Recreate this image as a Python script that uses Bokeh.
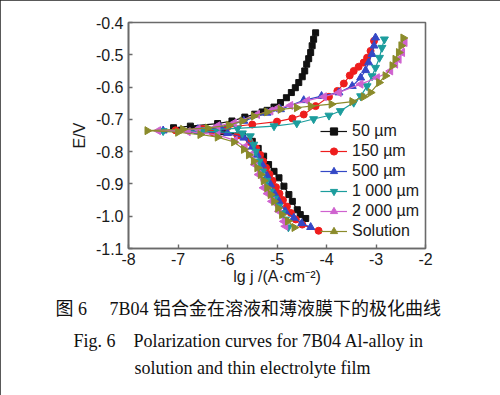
import math
from bokeh.plotting import figure
from bokeh.models import Range1d, FixedTicker, PrintfTickFormatter, Title
from bokeh.embed import file_html
from bokeh.resources import INLINE

# ---- data (lg j, E), cathodic end -> Ecorr -> anodic end ----
x_50 = [-4.42, -4.53, -4.59, -4.69, -4.76, -4.86, -4.96, -5.06, -5.17, -5.27, -5.38, -5.50, -5.70, -6.10, -6.70, -7.09,
        -6.75, -6.20, -5.91, -5.65, -5.45, -5.30, -5.20, -5.06, -4.93, -4.81, -4.71, -4.63, -4.56, -4.49, -4.44, -4.40,
        -4.36, -4.32, -4.29, -4.26, -4.22]
e_50 = [-1.007, -0.995, -0.980, -0.954, -0.933, -0.907, -0.881, -0.861, -0.840, -0.814, -0.790, -0.768, -0.748, -0.738,
        -0.731, -0.726, -0.721, -0.713, -0.705, -0.693, -0.684, -0.677, -0.672, -0.662, -0.648, -0.633, -0.617, -0.602,
        -0.586, -0.568, -0.550, -0.529, -0.512, -0.493, -0.472, -0.452, -0.432]

x_150 = [-4.16, -4.49, -4.62, -4.72, -4.80, -4.88, -4.95, -5.02, -5.09, -5.15, -5.22, -5.28, -5.34, -5.42, -5.55, -5.80,
         -6.30, -7.05, -6.50, -6.00, -5.50, -5.00, -4.69, -4.46, -4.22, -3.95, -3.78, -3.65, -3.53, -3.45, -3.35, -3.25,
         -3.18, -3.11, -3.04]
e_150 = [-1.045, -1.026, -1.010, -0.990, -0.970, -0.950, -0.930, -0.910, -0.890, -0.870, -0.850, -0.830, -0.810, -0.790,
         -0.770, -0.750, -0.740, -0.734, -0.730, -0.724, -0.716, -0.707, -0.697, -0.685, -0.659, -0.630, -0.612, -0.589,
         -0.564, -0.550, -0.537, -0.524, -0.509, -0.488, -0.457]

x_500 = [-4.32, -4.50, -4.66, -4.83, -4.96, -5.05, -5.13, -5.20, -5.30, -5.40, -5.50, -5.67, -6.00, -6.60, -7.30,
         -6.60, -6.14, -5.67, -5.20, -4.93, -4.46, -4.10, -3.75, -3.48, -3.31, -3.21, -3.15, -3.08, -3.04, -3.01]
e_500 = [-1.034, -1.022, -1.005, -0.985, -0.954, -0.930, -0.902, -0.875, -0.840, -0.810, -0.785, -0.757, -0.743, -0.737,
         -0.735, -0.731, -0.726, -0.705, -0.680, -0.669, -0.641, -0.628, -0.617, -0.597, -0.571, -0.548, -0.524, -0.498,
         -0.472, -0.447]

x_1000 = [-4.77, -4.83, -4.90, -4.97, -5.05, -5.13, -5.21, -5.29, -5.36, -5.43, -5.47, -5.54, -5.70, -6.20, -7.30,
          -6.50, -5.80, -5.06, -4.60, -4.26, -3.95, -3.72, -3.45, -3.31, -3.18, -3.08, -3.01, -2.93, -2.88, -2.83]
e_1000 = [-1.034, -1.010, -0.990, -0.970, -0.945, -0.923, -0.890, -0.861, -0.830, -0.800, -0.778, -0.752, -0.743, -0.738,
          -0.736, -0.733, -0.728, -0.721, -0.712, -0.699, -0.688, -0.674, -0.648, -0.628, -0.597, -0.566, -0.540, -0.509,
          -0.478, -0.452]

x_2000 = [-4.83, -4.86, -4.96, -5.10, -5.19, -5.27, -5.37, -5.45, -5.53, -5.65, -5.85, -6.20, -6.80, -7.40,
          -6.60, -6.20, -5.87, -5.40, -5.13, -5.00, -4.73, -4.39, -4.05, -3.75, -3.31, -2.98, -2.71, -2.61, -2.54,
          -2.47, -2.42]
e_2000 = [-1.031, -1.016, -0.985, -0.954, -0.930, -0.912, -0.871, -0.840, -0.810, -0.785, -0.765, -0.748, -0.738, -0.735,
          -0.730, -0.720, -0.711, -0.685, -0.674, -0.666, -0.657, -0.642, -0.630, -0.617, -0.591, -0.571, -0.550, -0.529,
          -0.514, -0.493, -0.462]

x_sol = [-4.65, -4.78, -4.90, -4.98, -5.06, -5.13, -5.20, -5.27, -5.33, -5.40, -5.47, -5.57, -5.67, -5.87, -6.20, -6.55,
         -7.00, -7.62, -6.90, -6.40, -5.97, -5.70, -5.47, -5.20, -4.93, -4.60, -4.32, -3.90, -3.48, -3.25, -3.11, -2.94,
         -2.81, -2.67, -2.61, -2.54, -2.49, -2.45]
e_sol = [-1.035, -1.015, -0.995, -0.975, -0.954, -0.933, -0.912, -0.890, -0.871, -0.850, -0.829, -0.810, -0.793, -0.770,
         -0.755, -0.747, -0.740, -0.735, -0.731, -0.727, -0.718, -0.705, -0.690, -0.677, -0.669, -0.664, -0.659, -0.653,
         -0.645, -0.630, -0.617, -0.586, -0.565, -0.534, -0.514, -0.493, -0.472, -0.448]

series_names = ["50 µm", "150 µm", "500 µm", "1 000 µm", "2 000 µm", "Solution"]
x_ticks = [-8, -7, -6, -5, -4, -3, -2]
y_ticks = [-1.1, -1.0, -0.9, -0.8, -0.7, -0.6, -0.5, -0.4]

caption_cn = "图 6\u3000 7B04  铝合金在溶液和薄液膜下的极化曲线"
caption_en_1 = "Fig. 6\u3000Polarization curves for 7B04 Al-alloy in"
caption_en_2 = "solution and thin electrolyte film"

# ---- figure ----
W, H = 500, 395
L, R, T, B = 128, 75, 22, 147
p = figure(width=W, height=H, output_backend="svg", toolbar_location=None,
           x_range=Range1d(-8, -2), y_range=Range1d(-1.1, -0.4),
           min_border_left=L, min_border_right=R, min_border_top=T, min_border_bottom=B)
p.xgrid.visible = False
p.ygrid.visible = False
p.background_fill_color = "white"
p.border_fill_color = "white"
p.outline_line_color = "#6a6a6a"
p.outline_line_width = 1.6
p.styles = {"outline": "2px solid #222222", "outline-offset": "-2px"}

for ax in (p.xaxis[0], p.yaxis[0]):
    ax.axis_line_color = "#6a6a6a"
    ax.axis_line_width = 1.6
    ax.major_tick_line_color = "#6a6a6a"
    ax.major_tick_line_width = 1.4
    ax.major_tick_in = 4
    ax.major_tick_out = 0
    ax.minor_tick_in = 0
    ax.minor_tick_out = 0
    ax.major_label_text_font = "Liberation Sans"
    ax.major_label_text_font_size = "16px"
    ax.major_label_text_color = "#1a1a1a"
    ax.axis_label_text_font = "Liberation Sans"
    ax.axis_label_text_font_size = "16px"
    ax.axis_label_text_font_style = "normal"
    ax.axis_label_text_color = "#1a1a1a"
p.xaxis.ticker = FixedTicker(ticks=x_ticks)
p.yaxis.ticker = FixedTicker(ticks=y_ticks)
p.xaxis.formatter = PrintfTickFormatter(format="%d")
p.yaxis.formatter = PrintfTickFormatter(format="%.1f")
p.xaxis.major_label_standoff = 4
p.yaxis.major_label_standoff = 5
p.xaxis.axis_label = "lg j /(A·cm⁻²)"
p.yaxis.axis_label = "E/V"
p.xaxis.axis_label_standoff = 0
p.yaxis.axis_label_standoff = 5

styles = [
    (x_50, e_50, "#111111", "square", 0.0, 6),
    (x_150, e_150, "#ee1d1d", "circle", 0.0, 7),
    (x_500, e_500, "#3448c6", "triangle", 0.0, 8),
    (x_1000, e_1000, "#1c9d9d", "inverted_triangle", 0.0, 8),
    (x_2000, e_2000, "#cf62cf", "triangle", math.pi / 2, 8),
    (x_sol, e_sol, "#8b8b2b", "triangle", -math.pi / 2, 8),
]
for name, (xs, es, c, m, a, s) in zip(series_names, styles):
    p.line(xs, es, line_color=c, line_width=1.2, legend_label=name)
    p.scatter(xs, es, marker=m, angle=a, size=s, fill_color=c, line_color=c, legend_label=name)

lg = p.legend[0]
lg.location = (192, 8)
lg.border_line_color = None
lg.background_fill_alpha = 0
lg.padding = 0
lg.margin = 0
lg.spacing = 2
lg.glyph_width = 27
lg.glyph_height = 18
lg.label_height = 18
lg.label_standoff = 5
lg.label_text_font = "Liberation Sans"
lg.label_text_font_size = "16px"
lg.label_text_color = "#1a1a1a"
lg.label_text_baseline = "middle"

# ---- caption as titles below the plot ----
font_mix = "'Liberation Serif', 'Noto Sans CJK SC'"
frame_left = L

def caption(text, x_ref, standoff):
    t = Title(text=text, align="left", offset=x_ref - frame_left, standoff=standoff,
              text_font=font_mix, text_font_size="18px", text_font_style="normal",
              text_color="#111111")
    p.add_layout(t, "below")

caption(caption_cn, 55, 19)
caption(caption_en_1, 73, 0)
caption(caption_en_2, 134, 11)

open("out.html", "w").write(file_html(p, INLINE))
